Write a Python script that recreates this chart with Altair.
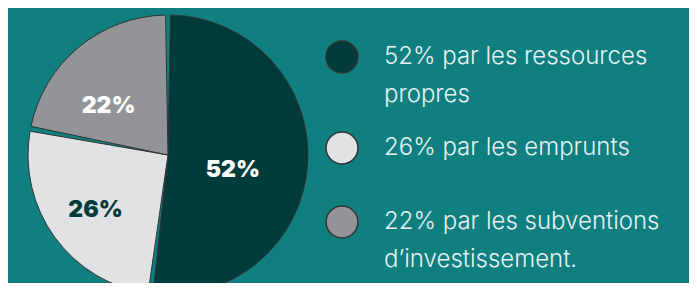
import altair as alt
import pandas as pd

# Data
categories = [
    "52% par les ressources\npropres",
    "26% par les emprunts",
    "22% par les subventions\nd\u2019investissement.",
]
values = [52, 26, 22]
pct_labels = ["52%", "26%", "22%"]
slice_colors = ["#003b3b", "#e1e2e4", "#939498"]
label_colors = ["#ffffff", "#003b3b", "#ffffff"]
order = [1, 2, 3]

df = pd.DataFrame({
    "category": categories,
    "value": values,
    "pct": pct_labels,
    "labelColor": label_colors,
    "order": order,
})

BG = "#0f7f80"
CX, CY, R = 160, 147, 140
LEGEND_ROWS = [49, 140, 214]  # pixel rows of the legend entries

color_scale = alt.Scale(domain=categories, range=slice_colors)

base = alt.Chart(df).encode(
    theta=alt.Theta("value:Q", stack=True),
    order=alt.Order("order:Q"),
)

arcs = base.mark_arc(
    outerRadius=R, padAngle=0.035, stroke="#333333", strokeWidth=1, x=CX, y=CY
).encode(
    color=alt.Color("category:N", scale=color_scale, legend=None),
)

texts = base.mark_text(
    radius=76, x=CX, y=CY, dx=-11, dy=10, font="Inter", fontSize=23, fontWeight=900
).encode(
    text="pct:N",
    color=alt.Color("labelColor:N", scale=None),
)

leg_base = alt.Chart(df).encode(
    y=alt.Y("order:Q", scale=alt.Scale(domain=order, range=LEGEND_ROWS), axis=None),
)

leg_symbols = leg_base.mark_point(
    shape="circle", filled=True, size=1018, opacity=1, stroke="#333333", strokeWidth=1.5
).encode(
    x=alt.value(334),
    color=alt.Color("category:N", scale=color_scale, legend=None),
)

leg_labels = leg_base.mark_text(
    align="left", baseline="middle", lineBreak="\n", lineHeight=38,
    font="Inter", fontSize=24, fontWeight=300, color="#e6f2f2",
).encode(
    x=alt.value(376),
    text="category:N",
)

chart = (
    alt.layer(arcs, texts, leg_symbols, leg_labels)
    .properties(
        width=681,
        height=275,
        padding=0,
        autosize=alt.AutoSizeParams(type="none"),
        background=BG,
    )
    .configure_view(stroke=None)
)

chart.save("out.html", embed_options={"renderer": "svg", "actions": False})
